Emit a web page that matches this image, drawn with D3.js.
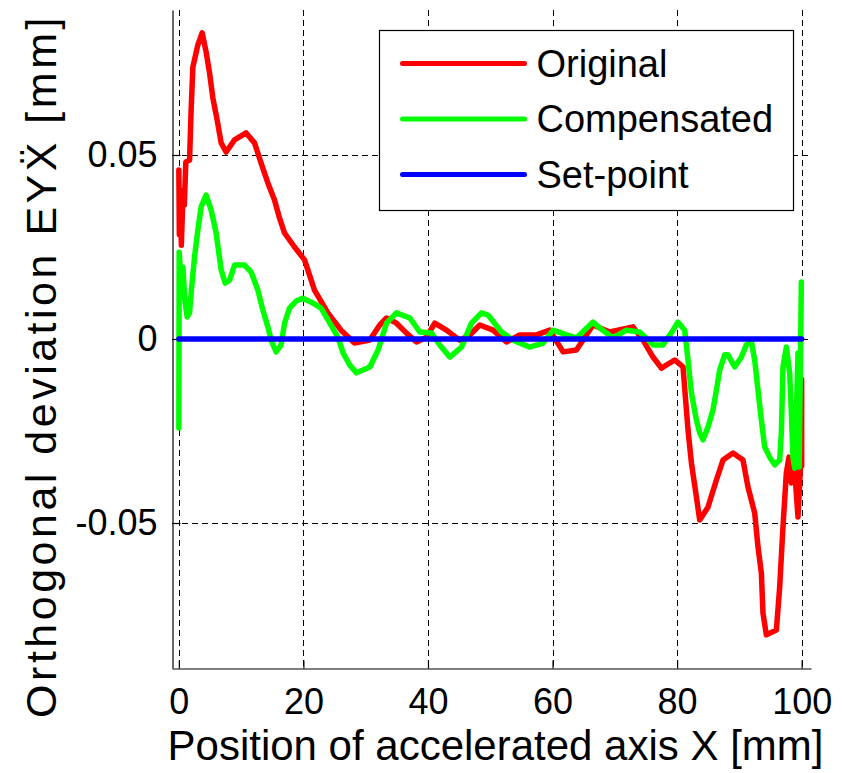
<!DOCTYPE html>
<html>
<head>
<meta charset="utf-8">
<script src="https://cdn.jsdelivr.net/npm/d3@7"></script>
<style>
  body { margin: 0; background: #fff; }
  svg { display: block; font-family: "Liberation Sans", Arial, sans-serif; }
</style>
</head>
<body>
<div id="chart"></div>
<script>
const width = 848;
const height = 773;

// data
const xTicks = [0, 20, 40, 60, 80, 100];
const yTicks = [-0.05, 0, 0.05];

const seriesNames = ["Original", "Compensated", "Set-point"];
const seriesColors = ["#ff0000", "#00ff00", "#0000ff"];

const origX = [0, 0.08, 0.24, 0.4, 0.64, 0.88, 1.12, 1.72, 1.97, 2.25, 3.05, 3.74, 4.38, 4.93, 5.46, 6.15, 6.79, 7.59, 8.94, 10.8,
  12.15, 13.21, 14.29, 15.36, 16.16, 16.97, 18.57, 20.18, 21.78, 23.92, 26.05, 28.2, 30.66, 32.26, 33.34, 34.94, 36.55, 38.15, 39.76, 41.09,
  42.97, 45.1, 46.71, 48.31, 50.45, 52.6, 54.74, 57.42, 59.55, 61.69, 63.84, 66.5, 69.18, 72.92, 74.53, 76.13, 77.48, 79.61, 80.95, 81.75,
  82.3, 83.1, 83.63, 84.96, 86.31, 87.37, 88.97, 90.58, 91.38, 92.46, 92.99, 93.53, 93.79, 94.33, 95.94, 96.47, 97.0, 97.54, 97.96, 98.35,
  98.88, 99.41, 99.8, 100, 100];
const origY = [0.0459, 0.0283, 0.0405, 0.0255, 0.0378, 0.0364, 0.0481, 0.0486, 0.0622, 0.0739, 0.0799, 0.0832, 0.078, 0.0723, 0.0655, 0.0595, 0.0533, 0.0508, 0.0541, 0.056,
  0.0533, 0.0478, 0.0424, 0.0378, 0.0329, 0.0288, 0.025, 0.0215, 0.0133, 0.0071, 0.0024, -0.0011, -0.0003, 0.0038, 0.0057, 0.0043, 0.0016, -0.0008, 0.0005, 0.0043,
  0.0024, -0.0003, 0.0011, 0.0038, 0.0024, -0.0008, 0.0011, 0.0011, 0.0024, -0.0035, -0.003, 0.0038, 0.0019, 0.0033, -0.0003, -0.0049, -0.0079, -0.0057, -0.0076, -0.0247,
  -0.0337, -0.0429, -0.0492, -0.0457, -0.0383, -0.0329, -0.031, -0.0329, -0.0402, -0.0473, -0.0565, -0.0636, -0.0745, -0.0804, -0.0791, -0.0674, -0.0511, -0.0364, -0.0321, -0.0391,
  -0.0356, -0.0484, -0.0348, -0.0345, -0.011];

const compX = [0, 0.05, 0.16, 0.32, 0.64, 0.96, 1.33, 1.72, 1.97, 2.52, 3.05, 3.58, 4.38, 5.18, 5.99, 6.79, 7.43, 8.14, 8.94, 10.55,
  11.61, 12.68, 13.48, 14.29, 14.82, 15.62, 16.42, 16.97, 17.77, 18.83, 19.9, 21.51, 22.84, 24.24, 25.52, 26.37, 27.45, 28.52, 30.66, 31.99,
  33.34, 34.94, 37.08, 38.68, 40.56, 41.89, 43.5, 45.38, 46.98, 48.59, 49.65, 51.8, 53.66, 56.34, 58.48, 60.08, 62.23, 63.84, 66.5, 67.58,
  69.71, 71.86, 74.0, 76.13, 77.74, 79.34, 80.14, 81.22, 81.75, 82.3, 83.1, 83.63, 84.16, 84.96, 85.76, 86.31, 86.84, 87.64, 88.17, 89.25,
  90.32, 91.12, 91.93, 92.46, 92.99, 93.53, 94.06, 94.86, 95.67, 96.47, 96.74, 97.0, 97.54, 98.07, 98.35, 98.6, 98.88, 99.15, 99.41, 99.6,
  99.95];
const compY = [-0.0242, 0.0236, 0.0209, 0.016, 0.0196, 0.0106, 0.006, 0.0071, 0.0125, 0.0223, 0.0296, 0.0359, 0.0391, 0.0351, 0.0288, 0.0188, 0.0152, 0.016, 0.0201, 0.0201,
  0.0182, 0.0133, 0.0079, 0.0033, -0.0003, -0.0035, -0.0016, 0.0043, 0.0084, 0.0103, 0.0111, 0.0098, 0.0084, 0.0043, 0.0005, -0.0038, -0.0071, -0.0092, -0.0076, -0.003,
  0.0043, 0.0071, 0.0057, 0.0019, 0.0016, -0.0016, -0.0049, -0.0022, 0.0043, 0.0071, 0.0065, 0.0019, -0.0003, -0.0022, -0.0011, 0.0024, 0.0011, 0.0003, 0.0046, 0.003,
  0.0003, 0.0024, 0.0019, -0.0016, -0.0016, 0.0024, 0.0046, 0.0024, -0.0057, -0.0147, -0.022, -0.0255, -0.0274, -0.0239, -0.0193, -0.0139, -0.0084, -0.0043, -0.0043, -0.0076,
  -0.0049, -0.0016, -0.0008, -0.0057, -0.0139, -0.022, -0.0293, -0.0321, -0.0342, -0.0329, -0.0255, -0.0076, -0.0022, -0.0092, -0.0201, -0.0321, -0.0351, -0.0201, -0.0038, -0.0348,
  0.0155];

const setX = [0, 100];
const setY = [0, 0];

const margin = {left: 172, right: 37, top: 10, bottom: 105};
const x = d3.scaleLinear().domain([-1.1, 101.5]).range([margin.left, width - margin.right]);
const y = d3.scaleLinear().domain([-0.0894, 0.0894]).range([height - margin.bottom, margin.top]);

const svg = d3.select('#chart')
    .append('svg')
    .attr('width', width)
    .attr('height', height);

// dashed grid
const grid = svg.append('g').attr('stroke', '#000').attr('stroke-width', 1).attr('stroke-dasharray', '6,4');
grid.selectAll('.gx').data(xTicks).enter().append('line')
    .attr('x1', d => Math.round(x(d)) + 0.5).attr('x2', d => Math.round(x(d)) + 0.5)
    .attr('y1', y.range()[1]).attr('y2', y.range()[0]);
grid.selectAll('.gy').data(yTicks).enter().append('line')
    .attr('y1', d => Math.round(y(d)) + 0.5).attr('y2', d => Math.round(y(d)) + 0.5)
    .attr('x1', x.range()[0]).attr('x2', x.range()[1]);

const fmt = d => String(d);

const xAxis = svg.append('g')
    .attr('transform', `translate(0, ${height - margin.bottom + 0.5})`)
    .call(d3.axisBottom(x).tickValues(xTicks).tickFormat(fmt).tickSizeInner(-8).tickSizeOuter(0).tickPadding(20));
const yAxis = svg.append('g')
    .attr('transform', `translate(${margin.left + 0.5}, 0)`)
    .call(d3.axisLeft(y).tickValues(yTicks).tickFormat(fmt).tickSizeInner(-8).tickSizeOuter(0).tickPadding(15));
[xAxis, yAxis].forEach(a => {
  a.selectAll('text').attr('font-size', 36).attr('fill', '#000').attr('font-family', '"Liberation Sans", Arial, sans-serif');
  a.selectAll('line, path').attr('stroke', '#000').attr('stroke-width', 1.2);
});

// series
const line = d3.line().x(d => x(d[0])).y(d => y(d[1]));
const series = [
  d3.zip(origX, origY),
  d3.zip(compX, compY),
  d3.zip(setX, setY)
];
svg.selectAll('.series').data(series).enter().append('path')
    .attr('class', 'series')
    .attr('d', line)
    .attr('fill', 'none')
    .attr('stroke', (d, i) => seriesColors[i])
    .attr('stroke-width', 5.5)
    .attr('stroke-linejoin', 'round')
    .attr('stroke-linecap', 'round');

// axis labels
svg.append('text')
    .attr('x', (x.range()[0] + x.range()[1]) / 2 + 4)
    .attr('y', 760)
    .attr('text-anchor', 'middle')
    .attr('font-size', 42)
    .text('Position of accelerated axis X [mm]');
// rotated label is spaced wider in the original
svg.append('text')
    .attr('transform', 'translate(56, 366) rotate(-90)')
    .attr('text-anchor', 'middle')
    .attr('font-size', 43)
    .attr('letter-spacing', 3.5)
    .text('Orthogonal deviation EYẌ [mm]');

// legend
const legend = svg.append('g').attr('transform', 'translate(379.5, 30.5)');
legend.append('rect')
    .attr('width', 414).attr('height', 180)
    .attr('fill', '#fff').attr('stroke', '#000').attr('stroke-width', 1.2);
const item = legend.selectAll('.item').data(seriesNames).enter().append('g')
    .attr('transform', (d, i) => `translate(0, ${33 + i * 55.5})`);
item.append('line')
    .attr('x1', 23).attr('x2', 145)
    .attr('stroke', (d, i) => seriesColors[i])
    .attr('stroke-width', 5)
    .attr('stroke-linecap', 'round');
item.append('text')
    .attr('x', 157).attr('dy', '0.35em')
    .attr('font-size', 38)
    .text(d => d);
</script>
</body>
</html>
